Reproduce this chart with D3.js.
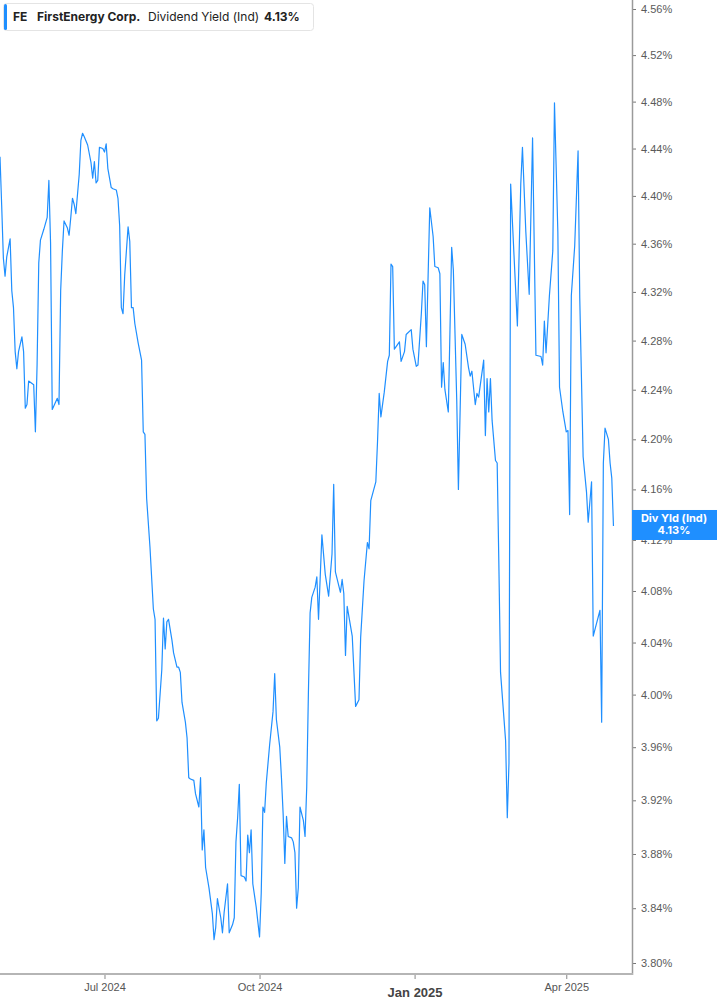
<!DOCTYPE html>
<html>
<head>
<meta charset="utf-8">
<script src="https://cdn.jsdelivr.net/npm/d3@7/dist/d3.min.js"></script>
<style>
  body { margin: 0; background: #fff; }
  svg { display: block; font-family: Inter, Roboto, "Noto Sans", sans-serif; }
</style>
</head>
<body>
<div id="chart"></div>
<script>
// FE dividend yield (indicated), % — vertices
const dates = [
  "2024-04-30","2024-05-01","2024-05-02","2024-05-03","2024-05-04","2024-05-06","2024-05-07","2024-05-08","2024-05-09","2024-05-10",
  "2024-05-11","2024-05-13","2024-05-14","2024-05-15","2024-05-16","2024-05-17","2024-05-19","2024-05-20","2024-05-21","2024-05-22",
  "2024-05-23","2024-05-24","2024-05-26","2024-05-28","2024-05-29","2024-05-30","2024-05-31",
  "2024-06-02","2024-06-03","2024-06-04","2024-06-05","2024-06-06","2024-06-07","2024-06-09","2024-06-10","2024-06-11","2024-06-12",
  "2024-06-13","2024-06-14","2024-06-16","2024-06-17","2024-06-18","2024-06-19","2024-06-21","2024-06-23","2024-06-24","2024-06-25",
  "2024-06-26","2024-06-27","2024-06-28","2024-06-30",
  "2024-07-01","2024-07-02","2024-07-03","2024-07-05","2024-07-06","2024-07-08","2024-07-09","2024-07-10","2024-07-11","2024-07-12",
  "2024-07-13","2024-07-15","2024-07-16","2024-07-17","2024-07-18","2024-07-19","2024-07-21","2024-07-23","2024-07-24","2024-07-25",
  "2024-07-26","2024-07-28","2024-07-30","2024-07-31",
  "2024-08-01","2024-08-02","2024-08-04","2024-08-05","2024-08-06","2024-08-07","2024-08-08","2024-08-10","2024-08-11","2024-08-13",
  "2024-08-14","2024-08-15","2024-08-16","2024-08-18","2024-08-19","2024-08-20","2024-08-21","2024-08-23","2024-08-24","2024-08-26",
  "2024-08-27","2024-08-28","2024-08-29","2024-08-30",
  "2024-09-01","2024-09-03","2024-09-04","2024-09-05","2024-09-06","2024-09-08","2024-09-09","2024-09-10","2024-09-12","2024-09-13",
  "2024-09-15","2024-09-16","2024-09-17","2024-09-18","2024-09-19","2024-09-20","2024-09-22","2024-09-23","2024-09-24","2024-09-25",
  "2024-09-26","2024-09-27","2024-09-29",
  "2024-10-01","2024-10-02","2024-10-03","2024-10-04","2024-10-05","2024-10-07","2024-10-09","2024-10-10","2024-10-11","2024-10-13",
  "2024-10-14","2024-10-15","2024-10-16","2024-10-17","2024-10-18","2024-10-20","2024-10-21","2024-10-22","2024-10-23","2024-10-24",
  "2024-10-25","2024-10-27","2024-10-28","2024-10-29","2024-10-30","2024-10-31",
  "2024-11-01","2024-11-03","2024-11-04","2024-11-05","2024-11-07","2024-11-09","2024-11-11","2024-11-13","2024-11-14","2024-11-15",
  "2024-11-18","2024-11-19","2024-11-20","2024-11-21","2024-11-22","2024-11-25","2024-11-27","2024-11-29","2024-11-30",
  "2024-12-02","2024-12-04","2024-12-05","2024-12-06","2024-12-09","2024-12-10","2024-12-11","2024-12-12","2024-12-14","2024-12-16",
  "2024-12-17","2024-12-18","2024-12-19","2024-12-20","2024-12-23","2024-12-24","2024-12-26","2024-12-27","2024-12-30","2024-12-31",
  "2025-01-02","2025-01-03","2025-01-05","2025-01-06","2025-01-07","2025-01-08","2025-01-10","2025-01-12","2025-01-13","2025-01-15",
  "2025-01-16","2025-01-17","2025-01-18","2025-01-19","2025-01-21","2025-01-23","2025-01-24","2025-01-26","2025-01-27","2025-01-29",
  "2025-01-31",
  "2025-02-02","2025-02-03","2025-02-04","2025-02-06","2025-02-07","2025-02-08","2025-02-11","2025-02-12","2025-02-13","2025-02-14",
  "2025-02-15","2025-02-16","2025-02-18","2025-02-19","2025-02-20","2025-02-21","2025-02-24","2025-02-25","2025-02-26","2025-02-27",
  "2025-03-01","2025-03-03","2025-03-05","2025-03-06","2025-03-08","2025-03-10","2025-03-12","2025-03-14","2025-03-17","2025-03-18",
  "2025-03-19","2025-03-20","2025-03-22","2025-03-24","2025-03-25","2025-03-27","2025-03-28","2025-03-30",
  "2025-04-01","2025-04-02","2025-04-03","2025-04-04","2025-04-06","2025-04-07","2025-04-08","2025-04-09","2025-04-11","2025-04-13",
  "2025-04-14","2025-04-16","2025-04-17","2025-04-19","2025-04-21","2025-04-22","2025-04-23","2025-04-24","2025-04-26","2025-04-27",
  "2025-04-28","2025-04-29"
];

const yieldValues = [
  4.433,4.392,4.348,4.333,4.349,4.364,4.321,4.307,4.271,4.257,
  4.271,4.283,4.271,4.225,4.228,4.247,4.245,4.244,4.206,4.260,
  4.344,4.363,4.372,4.382,4.413,4.361,4.224,
  4.230,4.233,4.228,4.321,4.354,4.379,4.373,4.367,4.382,4.398,
  4.393,4.385,4.418,4.447,4.453,4.450,4.443,4.428,4.415,4.429,
  4.411,4.413,4.441,4.440,
  4.437,4.444,4.423,4.407,4.406,4.405,4.398,4.375,4.307,4.302,
  4.334,4.374,4.362,4.307,4.307,4.294,4.278,4.264,4.206,4.204,
  4.153,4.114,4.066,4.058,
  3.980,3.982,4.019,4.059,4.035,4.056,4.058,4.042,4.032,4.021,
  4.021,4.017,3.994,3.979,3.967,3.937,3.936,3.935,3.925,3.915,
  3.937,3.883,3.898,3.870,
  3.855,3.836,3.817,3.826,3.847,3.833,3.822,3.837,3.858,3.822,
  3.828,3.833,3.889,3.907,3.932,3.864,3.863,3.860,3.894,3.881,
  3.898,3.858,3.841,
  3.819,3.851,3.915,3.911,3.933,3.962,3.987,4.016,3.981,3.960,
  3.937,3.910,3.873,3.908,3.893,3.892,3.889,3.881,3.840,3.855,
  3.915,3.905,3.893,3.930,4.002,4.063,
  4.075,4.083,4.091,4.058,4.124,4.093,4.076,4.109,4.164,4.095,
  4.079,4.089,4.078,4.030,4.068,4.045,3.991,3.996,4.044,
  4.088,4.118,4.113,4.151,4.166,4.198,4.237,4.218,4.238,4.263,
  4.268,4.343,4.341,4.273,4.279,4.263,4.271,4.285,4.289,4.273,
  4.259,4.260,4.302,4.329,4.326,4.275,4.390,4.366,4.341,4.340,
  4.335,4.242,4.262,4.240,4.222,4.357,4.338,4.232,4.160,4.285,
  4.277,
  4.258,4.251,4.255,4.228,4.237,4.234,4.264,4.203,4.249,4.222,
  4.249,4.215,4.183,4.181,4.101,4.017,3.965,3.907,3.948,4.410,
  4.350,4.292,4.410,4.441,4.370,4.318,4.449,4.268,4.267,4.260,
  4.296,4.270,4.317,4.354,4.479,4.370,4.242,4.222,
  4.206,4.207,4.140,4.317,4.358,4.398,4.438,4.315,4.186,4.158,
  4.134,4.166,4.045,4.055,4.065,3.979,4.181,4.209,4.200,4.181,
  4.169,4.131
];

const yTicks = [3.80,3.84,3.88,3.92,3.96,4.00,4.04,4.08,4.12,4.16,4.20,4.24,4.28,4.32,4.36,4.40,4.44,4.48,4.52,4.56];
const xTickDates = ["2024-07-01","2024-10-01","2025-01-01","2025-04-01"];
const xTickLabels = ["Jul 2024","Oct 2024","Jan 2025","Apr 2025"];

const ticker = "FE";
const company = "FirstEnergy Corp.";
const metric = "Dividend Yield (Ind)";
const shortMetric = "Div Yld (Ind)";

const W = 717, H = 1005;
const plotW = 632, plotH = 974;
const blue = "#1f8fff";

const parse = d3.timeParse("%Y-%m-%d");
const data = dates.map((d, i) => ({ date: parse(d), value: yieldValues[i] }));
const last = data[data.length - 1];

const svg = d3.select("#chart").append("svg")
  .attr("width", W)
  .attr("height", H);

const x = d3.scaleTime()
  .domain([parse("2024-04-30"), parse("2025-05-10")])
  .range([0, plotW]);

// log axis: tick spacing widens toward the bottom
const y = d3.scaleLog()
  .domain([3.80, 4.56])
  .range([963, 9]);

svg.append("clipPath").attr("id", "clip")
  .append("rect").attr("x", 0).attr("y", 0).attr("width", plotW).attr("height", plotH);

svg.append("path")
  .datum(data)
  .attr("clip-path", "url(#clip)")
  .attr("fill", "none")
  .attr("stroke", blue)
  .attr("stroke-width", 1.2)
  .attr("stroke-linejoin", "round")
  .attr("d", d3.line().x(d => x(d.date)).y(d => y(d.value)));

// right axis
const yAxis = svg.append("g")
  .attr("transform", `translate(${plotW},0)`)
  .call(d3.axisRight(y).tickValues(yTicks).tickSize(4).tickPadding(5)
    .tickFormat(d => d.toFixed(2) + "%"));
yAxis.select(".domain").remove();
yAxis.selectAll(".tick line").attr("stroke", "#777");
yAxis.selectAll(".tick text").attr("fill", "#5a5a5a").style("font-size", "11px");
svg.append("line")
  .attr("x1", plotW + 0.5).attr("x2", plotW + 0.5)
  .attr("y1", 0).attr("y2", plotH + 1)
  .attr("stroke", "#9a9a9a").attr("stroke-width", 1.5);

// bottom axis
const xAxis = svg.append("g")
  .attr("transform", `translate(0,${plotH})`)
  .call(d3.axisBottom(x).tickValues(xTickDates.map(parse)).tickSize(5).tickPadding(4)
    .tickFormat((d, i) => xTickLabels[i]));
xAxis.select(".domain").remove();
xAxis.selectAll(".tick line").attr("stroke", "#888");
xAxis.selectAll(".tick text")
  .attr("fill", "#555")
  .style("font-size", "11px")
  .filter((d, i) => i === 2)
  .attr("dy", "1.05em")
  .style("font-size", "13px")
  .style("font-weight", "700")
  .attr("fill", "#444");
svg.append("line")
  .attr("x1", 0).attr("x2", plotW + 1)
  .attr("y1", plotH).attr("y2", plotH)
  .attr("stroke", "#b5b5b5").attr("stroke-width", 2);

// last value tag on the right axis
const tagY = y(last.value);
svg.append("rect")
  .attr("x", plotW).attr("y", tagY - 16)
  .attr("width", W - plotW).attr("height", 30)
  .attr("fill", blue);
svg.append("text")
  .attr("x", plotW + 42).attr("y", tagY - 4)
  .attr("text-anchor", "middle")
  .attr("fill", "#fff").style("font-size", "11px").style("font-weight", "700")
  .text(shortMetric);
svg.append("text")
  .attr("x", plotW + 42).attr("y", tagY + 8)
  .attr("text-anchor", "middle")
  .attr("fill", "#fff").style("font-size", "11px").style("font-weight", "700")
  .text(last.value.toFixed(2) + "%");

// legend
const legend = svg.append("g");
legend.append("rect")
  .attr("x", 3.5).attr("y", 3.5).attr("width", 310).attr("height", 27).attr("rx", 3)
  .attr("fill", "#fff").attr("stroke", "#e4e4e4");
legend.append("rect")
  .attr("x", 4).attr("y", 4).attr("width", 3).attr("height", 26).attr("rx", 1.5)
  .attr("fill", blue);
const legendText = legend.append("text")
  .attr("y", 21).attr("fill", "#222").style("font-size", "12px");
legendText.append("tspan").attr("x", 13).style("font-weight", "700").text(ticker);
legendText.append("tspan").attr("x", 37).style("font-weight", "700").text(company);
legendText.append("tspan").attr("x", 148).text(metric);
legendText.append("tspan").attr("x", 264).style("font-weight", "700").text(last.value.toFixed(2) + "%");
</script>
</body>
</html>
